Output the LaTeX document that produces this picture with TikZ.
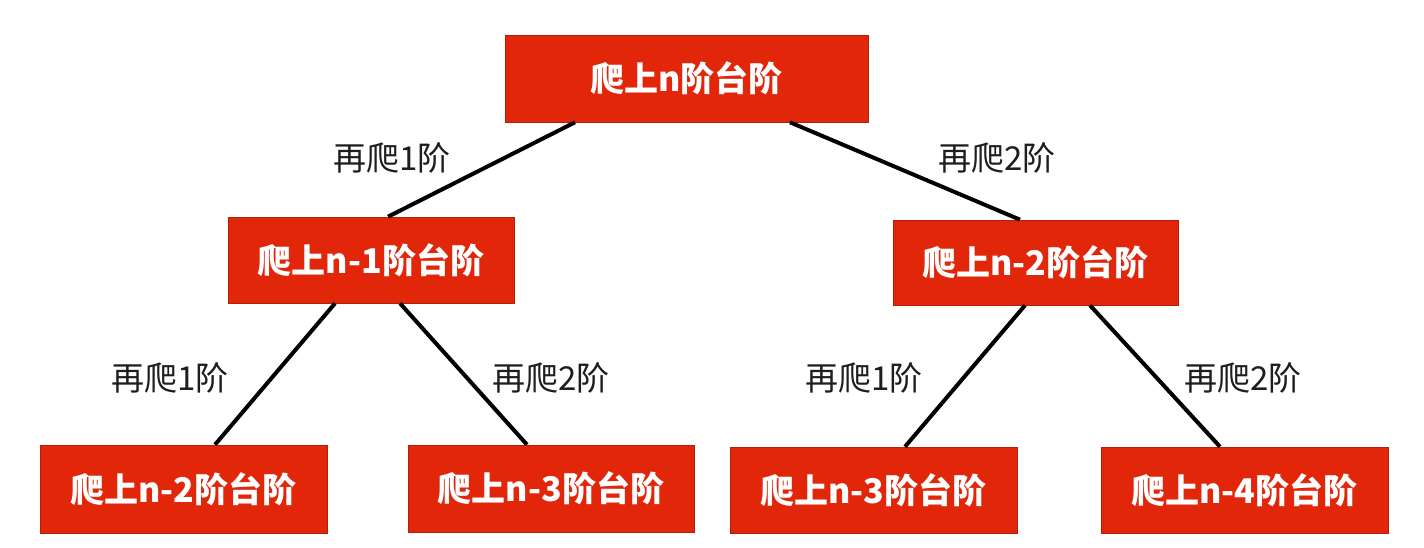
\documentclass[tikz,border=0pt]{standalone}
\usepackage{fontspec}
\newfontfamily\cjk{Noto Sans CJK SC}
\usetikzlibrary{calc}
\definecolor{boxred}{RGB}{226,38,10}
\definecolor{labelgray}{RGB}{30,30,30}
\tikzset{
  stepbox/.style={fill=boxred, draw=boxred!80!black, line width=0.6pt, text=white,
    font=\cjk\bfseries\fontsize{34}{37}\selectfont, inner sep=0pt, anchor=center},
  edgelabel/.style={text=labelgray, font=\cjk\fontsize{33}{36}\selectfont, inner sep=0pt, anchor=center},
  link/.style={line width=4pt, black}
}
\begin{document}
\begin{tikzpicture}[x=1pt,y=-1pt]
\useasboundingbox[fill=white] (0,0) rectangle (1424,548);
\node[stepbox, minimum width=363pt, minimum height=87pt] (top) at (686.5,78.5) {爬上n阶台阶};
\node[stepbox, minimum width=286pt, minimum height=86pt] (ml) at (371,260) {爬上n-1阶台阶};
\node[stepbox, minimum width=285pt, minimum height=85pt] (mr) at (1035.5,262.5) {爬上n-2阶台阶};
\node[stepbox, minimum width=287pt, minimum height=88pt] (b1) at (183.5,489) {爬上n-2阶台阶};
\node[stepbox, minimum width=286pt, minimum height=87pt] (b2) at (551,488.5) {爬上n-3阶台阶};
\node[stepbox, minimum width=287pt, minimum height=86pt] (b3) at (873.5,490) {爬上n-3阶台阶};
\node[stepbox, minimum width=287pt, minimum height=86pt] (b4) at (1244.5,490) {爬上n-4阶台阶};
\draw[link] ($(top.south)+(-111.5,0)$) -- ($(ml.north)+(17,0)$);
\draw[link] ($(top.south)+(103.5,0)$) -- ($(mr.north)+(-15.5,0)$);
\draw[link] ($(ml.south)+(-36,0)$) -- ($(b1.north)+(31.5,0)$);
\draw[link] ($(ml.south)+(29,0)$) -- ($(b2.north)+(-24,0)$);
\draw[link] ($(mr.south)+(-10.5,0)$) -- ($(b3.north)+(31.5,0)$);
\draw[link] ($(mr.south)+(54.5,0)$) -- ($(b4.north)+(-24.5,0)$);
\node[edgelabel] (l1) at (392,158) {再爬1阶};
\node[edgelabel] (l2) at (997,158) {再爬2阶};
\node[edgelabel] (l3) at (170,378) {再爬1阶};
\node[edgelabel] (l4) at (551,378) {再爬2阶};
\node[edgelabel] (l5) at (864,378) {再爬1阶};
\node[edgelabel] (l6) at (1243,378) {再爬2阶};
\end{tikzpicture}
\end{document}
